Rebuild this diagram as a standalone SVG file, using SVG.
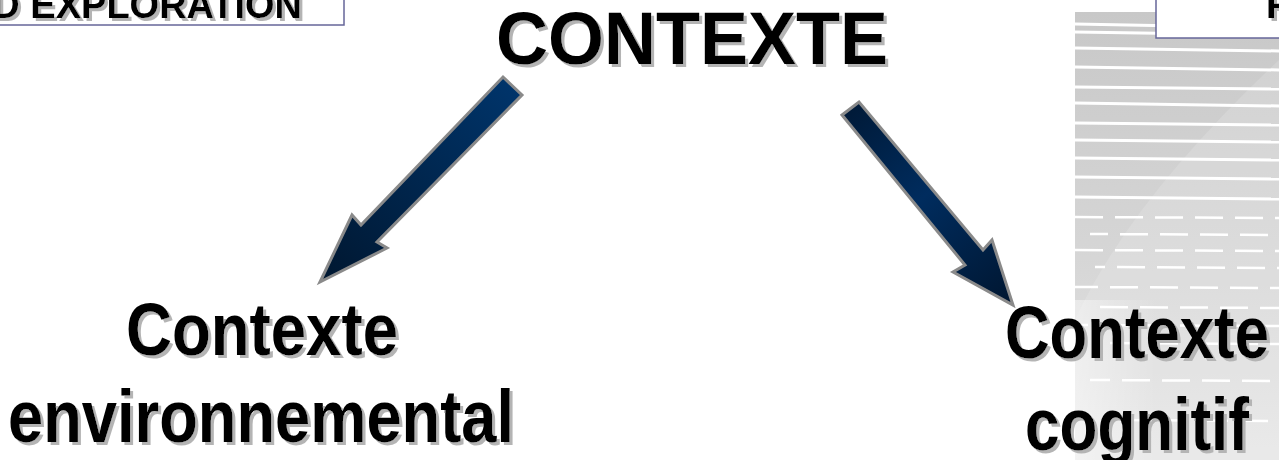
<svg xmlns="http://www.w3.org/2000/svg" width="1279" height="460" viewBox="0 0 1279 460">
  <style>
    .t { font-family: "Liberation Sans", Arial, sans-serif; font-weight: bold; fill: #000; filter: url(#shadow); }
    .hdr { font-size: 38px; }
    .big { font-size: 74px; }
    .frame { fill: #fff; stroke: #666699; stroke-width: 1.5; }
    .arrow { stroke: #8a8a8a; stroke-width: 3; stroke-linejoin: miter; }
    .stripe { stroke: #fff; stroke-width: 3; fill: none; }
    .dash { stroke: #fff; stroke-width: 2.5; fill: none; stroke-dasharray: 28 12; }
  </style>
  <defs>
    <filter id="shadow" x="-10%" y="-20%" width="130%" height="150%">
      <feOffset in="SourceAlpha" dx="3" dy="3" result="off"/>
      <feFlood flood-color="#b4b4b4"/>
      <feComposite in2="off" operator="in" result="sh"/>
      <feMerge><feMergeNode in="sh"/><feMergeNode in="SourceGraphic"/></feMerge>
    </filter>
    <linearGradient id="panel" x1="0" y1="0" x2="0" y2="1">
      <stop offset="0" stop-color="#c8c8c8"/>
      <stop offset="0.55" stop-color="#d6d6d6"/>
      <stop offset="1" stop-color="#e6e6e6"/>
    </linearGradient>
    <linearGradient id="fadeL" x1="0" y1="0" x2="1" y2="0">
      <stop offset="0" stop-color="#fff" stop-opacity="0.45"/>
      <stop offset="0.4" stop-color="#fff" stop-opacity="0"/>
    </linearGradient>
    <linearGradient id="gradL" gradientUnits="userSpaceOnUse" x1="512" y1="86" x2="320" y2="282">
      <stop offset="0" stop-color="#00346a"/>
      <stop offset="1" stop-color="#001730"/>
    </linearGradient>
    <linearGradient id="gradR" gradientUnits="userSpaceOnUse" x1="850" y1="108" x2="1013" y2="305">
      <stop offset="0" stop-color="#001a38"/>
      <stop offset="0.45" stop-color="#002c5e"/>
      <stop offset="1" stop-color="#001630"/>
    </linearGradient>
  </defs>

  <rect width="1279" height="460" fill="#fff"/>

  <!-- striped panel on the right edge -->
  <g id="panel-bg">
    <rect x="1075" y="12" width="204" height="448" fill="url(#panel)"/>
    <path d="M1075 320 Q1130 200 1279 60 L1279 460 L1075 460 Z" fill="#fff" opacity="0.15"/>
    <rect x="1075" y="300" width="204" height="160" fill="url(#fadeL)"/>
    <g class="stripes">
      <path class="stripe" d="M1075 24 L1279 28"/>
      <path class="stripe" d="M1075 32 L1279 35"/>
      <path class="stripe" d="M1075 48 L1279 51"/>
      <path class="stripe" d="M1075 67 L1279 70"/>
      <path class="stripe" d="M1075 87 L1279 89"/>
      <path class="stripe" d="M1075 103 L1279 106"/>
      <path class="stripe" d="M1075 123 L1279 125"/>
      <path class="stripe" d="M1075 140 L1279 142"/>
      <path class="stripe" d="M1075 158 L1279 160"/>
      <path class="stripe" d="M1075 177 L1279 179"/>
      <path class="stripe" d="M1075 197 L1279 199"/>
      <path class="dash" d="M1075 217 L1279 218"/>
      <path class="dash" d="M1090 234 L1279 235" stroke-dashoffset="10"/>
      <path class="dash" d="M1075 250 L1279 251"/>
      <path class="dash" d="M1095 267 L1279 268" stroke-dashoffset="18"/>
      <path class="dash" d="M1075 287 L1279 288" stroke-dashoffset="5"/>
      <path class="dash" d="M1100 307 L1279 308"/>
      <path class="dash" d="M1080 325 L1279 326" stroke-dashoffset="20"/>
      <path class="dash" d="M1110 343 L1279 344"/>
      <path class="dash" d="M1090 380 L1279 381" stroke-dashoffset="8"/>
      <path class="dash" d="M1120 420 L1279 421"/>
    </g>
  </g>

  <!-- header frames -->
  <g id="header-left">
    <rect class="frame" x="-10" y="-10" width="354" height="35"/>
    <text class="t hdr" x="302" y="18" text-anchor="end">D EXPLORATION</text>
  </g>
  <g id="header-right">
    <rect class="frame" x="1156" y="-10" width="140" height="48"/>
    <text class="t hdr" x="1266" y="18">F</text>
  </g>

  <!-- connectors -->
  <g id="connectors">
    <polygon class="arrow" fill="url(#gradL)" points="503,77 522,95 377,242 387,248 320,282 352,215 361,225"/>
    <polygon class="arrow" fill="url(#gradR)" points="842,115 859,102 983,250 992,240 1013,305 953,272 965,265"/>
  </g>

  <g id="node-contexte">
    <text class="t big" x="692" y="64" text-anchor="middle" textLength="392" lengthAdjust="spacingAndGlyphs">CONTEXTE</text>
  </g>
  <g id="node-environnemental">
    <text class="t big" x="262" y="355" text-anchor="middle" textLength="272" lengthAdjust="spacingAndGlyphs">Contexte</text>
    <text class="t big" x="261" y="442" text-anchor="middle" textLength="506" lengthAdjust="spacingAndGlyphs">environnemental</text>
  </g>
  <g id="node-cognitif">
    <text class="t big" x="1137" y="358" text-anchor="middle" textLength="264" lengthAdjust="spacingAndGlyphs">Contexte</text>
    <text class="t big" x="1137" y="450" text-anchor="middle" textLength="224" lengthAdjust="spacingAndGlyphs">cognitif</text>
  </g>
</svg>
